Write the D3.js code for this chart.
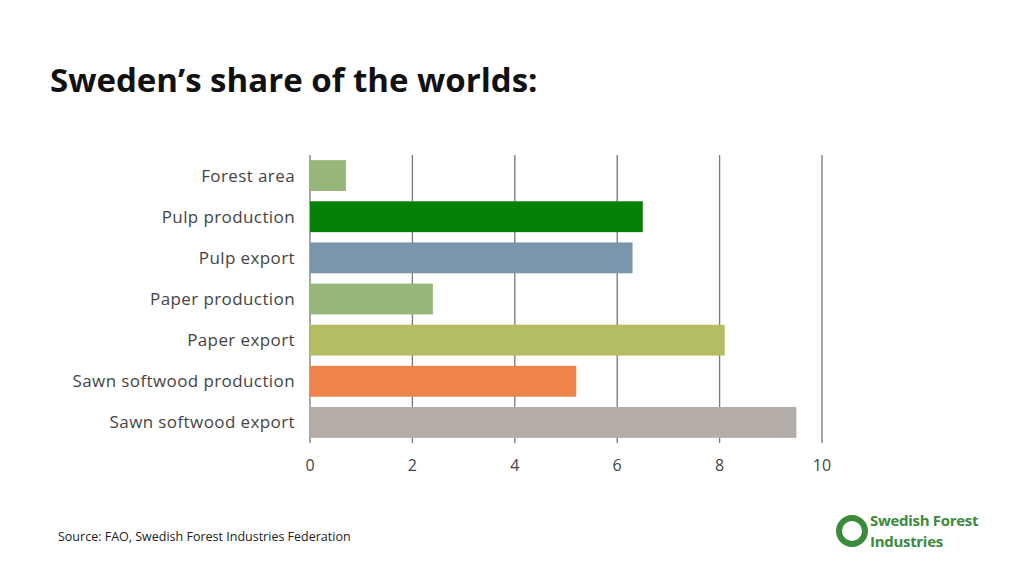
<!DOCTYPE html>
<html><head><meta charset="utf-8">
<script src="https://cdn.jsdelivr.net/npm/d3@7"></script>
<style>body{margin:0;background:#fff}svg{display:block}</style>
</head><body><svg id="c" width="1024" height="576"></svg>
<script>
const categories=["Forest area","Pulp production","Pulp export","Paper production","Paper export","Sawn softwood production","Sawn softwood export"];
const values=[0.7,6.5,6.3,2.4,8.1,5.2,9.5];
const colors=["#97b67a","#078007","#7a96ab","#97b67a","#b4bc64","#ef844a","#b4aca6"];
const ticks=[0,2,4,6,8,10];
const svg=d3.select("#c");
const font="Open Sans, sans-serif";
svg.append("text").attr("x",50).attr("y",92).text("Sweden’s share of the worlds:")
 .attr("font-family",font).attr("font-weight","bold").attr("font-size",33).attr("fill","#111");
const x=d3.scaleLinear().domain([0,10]).range([310,822]);
const y=d3.scaleBand().domain(categories).range([155,443]).paddingInner(0.25).paddingOuter(0.125);
svg.selectAll(".g").data(ticks).join("line").attr("x1",d=>x(d)).attr("x2",d=>x(d))
 .attr("y1",155).attr("y2",443).attr("stroke","#777").attr("stroke-width",1.3);
svg.selectAll(".b").data(values).join("rect").attr("x",x(0)).attr("y",(d,i)=>y(categories[i]))
 .attr("width",d=>x(d)-x(0)).attr("height",y.bandwidth()).attr("fill",(d,i)=>colors[i]);
svg.selectAll(".l").data(categories).join("text").attr("x",295).attr("y",d=>y(d)+y.bandwidth()/2+6)
 .attr("text-anchor","end").text(d=>d).attr("font-family",font).attr("font-size",17).attr("letter-spacing",0.4).attr("fill","#444");
svg.selectAll(".t").data(ticks).join("text").attr("x",d=>x(d)).attr("y",471).attr("text-anchor","middle")
 .text(d=>d).attr("font-family",font).attr("font-size",16).attr("fill","#444");
svg.append("text").attr("x",58).attr("y",541).text("Source: FAO, Swedish Forest Industries Federation")
 .attr("font-family",font).attr("font-size",12.5).attr("fill","#222");
const lg=svg.append("g");
lg.append("circle").attr("cx",852).attr("cy",531).attr("r",13).attr("fill","none").attr("stroke","#3c8a3c").attr("stroke-width",6);
lg.append("text").attr("x",870).attr("y",526).text("Swedish Forest").attr("font-family",font).attr("font-weight","bold").attr("font-size",15).attr("fill","#3c8a3c").attr("letter-spacing",-0.3);
lg.append("text").attr("x",870).attr("y",547).text("Industries").attr("font-family",font).attr("font-weight","bold").attr("font-size",15).attr("fill","#3c8a3c").attr("letter-spacing",-0.3);
</script></body></html>
